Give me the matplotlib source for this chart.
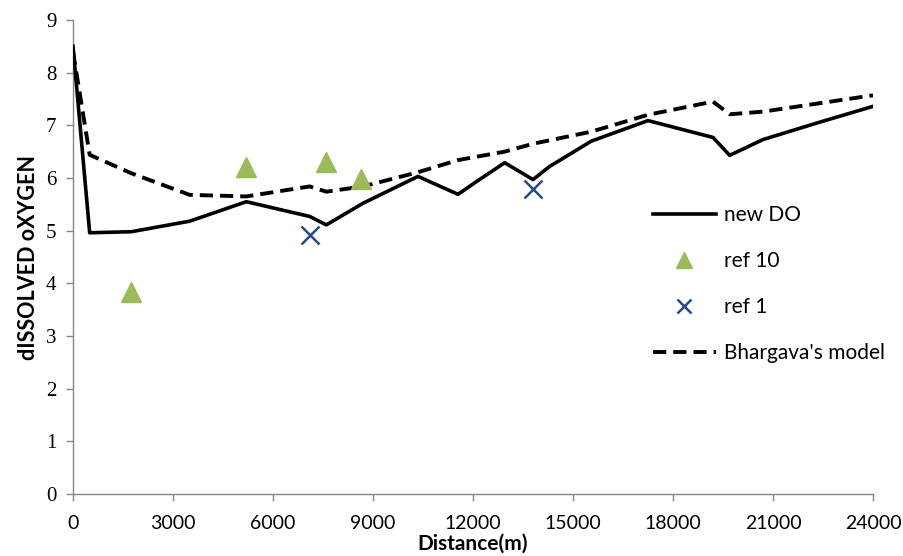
import matplotlib
matplotlib.use("Agg")
import matplotlib.pyplot as plt

# values
new_do_x = [0, 500, 1750, 3500, 5200, 7100, 7600, 8700, 10350, 11550, 12100,
            12950, 13800, 14300, 15550, 17250, 19200, 19700, 20700, 22400, 24000]
new_do_y = [8.5, 4.96, 4.98, 5.18, 5.55, 5.27, 5.11, 5.52, 6.03, 5.69, 5.93,
            6.29, 5.97, 6.22, 6.70, 7.09, 6.77, 6.43, 6.73, 7.06, 7.36]

bhargava_x = [0, 500, 1750, 3500, 5200, 7100, 7600, 8700, 10350, 11550,
              12950, 13800, 15550, 17250, 19200, 19700, 20700, 22400, 24000]
bhargava_y = [8.4, 6.44, 6.09, 5.68, 5.65, 5.84, 5.74, 5.84, 6.11, 6.34,
              6.50, 6.65, 6.88, 7.20, 7.45, 7.21, 7.26, 7.42, 7.57]

ref10_x = [1750, 5200, 7600, 8650]
ref10_y = [3.83, 6.20, 6.30, 5.98]

ref1_x = [7100, 13800]
ref1_y = [4.92, 5.80]

x_ticks = list(range(0, 24001, 3000))
y_ticks = list(range(0, 10))

AXIS_GREY = "#868686"
GREEN = "#9BBB59"
BLUE = "#254A8A"
SANS = ["Liberation Sans Narrow", "Lato", "DejaVu Sans"]

fig = plt.figure(figsize=(9.04, 5.56), dpi=100)
ax = fig.add_axes([73 / 904, 62 / 556, 800 / 904, 474 / 556])

ax.plot(new_do_x, new_do_y, color="black", lw=2.6, label="new DO", zorder=3)
ax.plot(ref10_x, ref10_y, ls="none", marker="^", ms=14, color=GREEN,
        mec=GREEN, label="ref 10", zorder=4)
ax.plot(ref1_x, ref1_y, ls="none", marker="x", ms=13, mew=1.8, color=BLUE,
        label="ref 1", zorder=4)
ax.plot(bhargava_x, bhargava_y, color="black", lw=2.8, dashes=(3.4, 1.8),
        label="Bhargava's model", zorder=3)

ax.set_xlim(0, 24000)
ax.set_ylim(0, 9)
ax.set_xticks(x_ticks)
ax.set_yticks(y_ticks)

for s in ["top", "right"]:
    ax.spines[s].set_visible(False)
for s in ["left", "bottom"]:
    ax.spines[s].set_color(AXIS_GREY)
    ax.spines[s].set_linewidth(1.0)

ax.tick_params(axis="both", direction="out", length=5, width=1.0,
               color=AXIS_GREY)
ax.tick_params(axis="x", pad=10)
ax.tick_params(axis="y", pad=7)

for lab in ax.get_xticklabels():
    lab.set_family(SANS)
    lab.set_fontsize(14)
for lab in ax.get_yticklabels():
    lab.set_family(["Liberation Serif", "DejaVu Serif"])
    lab.set_fontsize(15)

ax.set_xlabel("Distance(m)", fontsize=15, fontweight="bold", family=SANS,
              labelpad=1)
ax.set_ylabel("dISSOLVED oXYGEN", fontsize=15.5, fontweight="bold",
              family=SANS, labelpad=5)

leg = ax.legend(loc="upper left", bbox_to_anchor=(653 / 904, 1 - 205 / 556),
                bbox_transform=fig.transFigure, frameon=False,
                prop={"family": SANS, "size": 15}, handlelength=3.0,
                handletextpad=0.4, labelspacing=1.25, borderpad=0,
                borderaxespad=0, markerscale=0.8)

fig.savefig("out.png", dpi=100)
